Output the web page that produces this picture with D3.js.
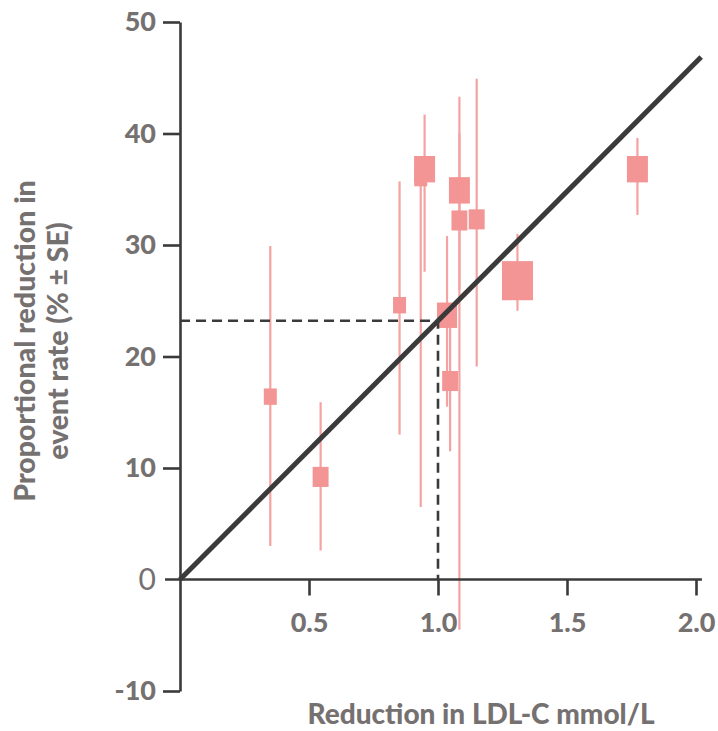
<!DOCTYPE html>
<html>
<head>
<meta charset="utf-8">
<script src="https://cdn.jsdelivr.net/npm/d3@7"></script>
<style>
  body { margin: 0; background: #fff; }
  svg { display: block; font-family: Lato, "Open Sans", sans-serif; }
</style>
</head>
<body>
<div id="chart"></div>
<script>
// LDL-C reduction (mmol/L) per trial
const ldlReduction = [0.35, 0.545, 0.851, 0.948, 0.933, 1.083, 1.083, 1.035, 1.047, 1.15, 1.308, 1.773];
// proportional reduction in event rate (%)
const riskReduction = [16.4, 9.2, 24.6, 36.8, 36.0, 34.9, 32.2, 23.7, 17.8, 32.3, 26.8, 36.8];
const lowerSE = [3.0, 2.6, 13.0, 27.6, 6.5, 26.0, -4.5, 15.5, 11.5, 19.1, 24.1, 32.7];
const upperSE = [29.9, 15.9, 35.7, 41.7, 37.0, 43.3, 40.0, 30.8, 24.0, 44.9, 31.0, 39.6];
// relative trial weight (drives square size)
const trialWeight = [1.0, 1.5, 1.0, 2.6, 1.0, 2.6, 1.5, 2.4, 1.5, 1.5, 5.7, 2.6];

const xTicks = [0.5, 1.0, 1.5, 2.0];
const yTicks = [-10, 10, 20, 30, 40, 50];
const fitSlope = 23.2;       // % per mmol/L
const fitEnd = 2.02;
const refX = 1.0;

const width = 718;
const height = 731;
const grey = "#767171";
const ink = "#3a3a3a";

const data = ldlReduction.map((d, i) => ({
    x: d, y: riskReduction[i], lo: lowerSE[i], hi: upperSE[i], w: trialWeight[i]
}));

const x = d3.scaleLinear().domain([0, 2]).range([180, 696]);
const y = d3.scaleLinear().domain([-10, 50]).range([691, 22]);
const side = d3.scaleSqrt().domain([0, 1]).range([0, 13]);

const svg = d3.select("#chart").append("svg")
    .attr("width", width)
    .attr("height", height);

// error bars first, squares on top
svg.append("g")
    .selectAll("line")
    .data(data)
    .join("line")
    .attr("x1", d => x(d.x))
    .attr("x2", d => x(d.x))
    .attr("y1", d => y(d.hi))
    .attr("y2", d => y(d.lo))
    .attr("stroke", "#f4a2a2")
    .attr("stroke-width", 2.2);

svg.append("g")
    .selectAll("rect")
    .data(data)
    .join("rect")
    .attr("x", d => x(d.x) - side(d.w) / 2)
    .attr("y", d => y(d.y) - side(d.w) * 0.63)
    .attr("width", d => side(d.w))
    .attr("height", d => side(d.w) * 1.26)
    .attr("fill", "#f39594");

// dashed reference at 1 mmol/L
const refY = fitSlope * refX;
svg.append("path")
    .attr("d", d3.line()([[x(0), y(refY)], [x(refX), y(refY)], [x(refX), y(0)]]))
    .attr("fill", "none")
    .attr("stroke", ink)
    .attr("stroke-width", 2.6)
    .attr("stroke-dasharray", "10,6");

// fitted line through origin
svg.append("line")
    .attr("x1", x(0))
    .attr("y1", y(0))
    .attr("x2", x(fitEnd))
    .attr("y2", y(fitSlope * fitEnd))
    .attr("stroke", ink)
    .attr("stroke-width", 5);

// x axis
const gx = svg.append("g")
    .attr("transform", `translate(0,${y(0)})`)
    .call(d3.axisBottom(x).tickValues(xTicks).tickSize(16).tickSizeOuter(0)
        .tickPadding(17).tickFormat(d3.format(".1f")));
gx.select(".domain").remove();
gx.append("line")
    .attr("x1", x(-0.058))
    .attr("x2", x(2.023))
    .attr("stroke", ink)
    .attr("stroke-width", 2.6);

// y axis
const gy = svg.append("g")
    .attr("transform", `translate(${x(0)},0)`)
    .call(d3.axisLeft(y).tickValues(yTicks).tickSize(17).tickSizeOuter(0)
        .tickPadding(7).tickFormat(d => String(d)));

svg.selectAll(".tick line").attr("stroke", ink).attr("stroke-width", 2.6);
gy.select(".domain").attr("stroke", ink).attr("stroke-width", 2.6);
svg.selectAll(".tick text")
    .attr("fill", grey)
    .attr("font-family", "Lato, sans-serif")
    .attr("font-weight", 900)
    .attr("font-size", 27);

// zero label (plain weight)
svg.append("text")
    .attr("x", x(0) - 24)
    .attr("y", y(0))
    .attr("dy", "0.36em")
    .attr("text-anchor", "end")
    .attr("fill", grey)
    .attr("font-size", 30)
    .text("0");

// axis titles
svg.append("text")
    .attr("x", 481)
    .attr("y", 724)
    .attr("text-anchor", "middle")
    .attr("fill", grey)
    .attr("font-weight", 900)
    .attr("font-size", 28)
    .text("Reduction in LDL-C mmol/L");

const yTitle = svg.append("text")
    .attr("transform", "translate(0,341) rotate(-90)")
    .attr("text-anchor", "middle")
    .attr("fill", grey)
    .attr("font-weight", 900)
    .attr("font-size", 28.5);
yTitle.append("tspan").attr("x", 0).attr("y", 35).text("Proportional reduction in");
yTitle.append("tspan").attr("x", 0).attr("y", 68).text("event rate (% \u00b1 SE)");
</script>
</body>
</html>
